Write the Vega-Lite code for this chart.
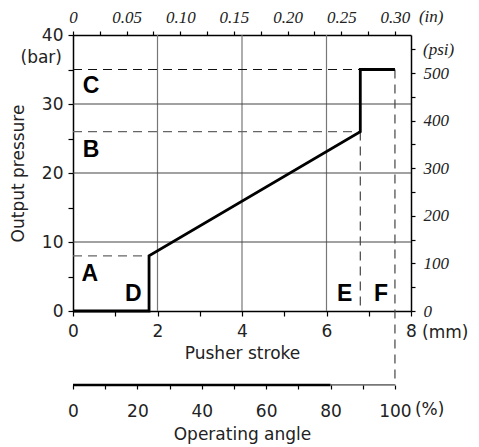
{
  "$schema": "https://vega.github.io/schema/vega-lite/v6.json",
  "width": 338,
  "height": 276,
  "autosize": {"type": "none"},
  "padding": {"left": 73, "top": 35, "right": 68, "bottom": 136},
  "background": "white",
  "config": {
    "view": {"stroke": null},
    "axis": {
      "labelFont": "DejaVu Sans", "labelFontSize": 17, "labelColor": "#222",
      "titleFont": "DejaVu Sans", "titleFontSize": 17, "titleFontWeight": "normal", "titleColor": "#222",
      "domainColor": "black", "domainWidth": 1.5, "tickColor": "black", "tickWidth": 1.2,
      "grid": false
    }
  },
  "datasets": {
    "curve": [{"mm": 0, "bar": 0}, {"mm": 1.8, "bar": 0}, {"mm": 1.8, "bar": 8}, {"mm": 6.8, "bar": 26}, {"mm": 6.8, "bar": 35}, {"mm": 7.62, "bar": 35}],
    "vgrid": [{"mm": 2}, {"mm": 4}, {"mm": 6}],
    "hgrid": [{"bar": 10}, {"bar": 20}, {"bar": 30}],
    "hdashGray": [{"mm": 0, "mm2": 1.8, "bar": 8}, {"mm": 0, "mm2": 6.8, "bar": 26}],
    "hdashBlack": [{"mm": 0, "mm2": 6.8, "bar": 35}],
    "vdash": [{"mm": 6.8, "bar": 26, "bar2": 0}, {"mm": 7.62, "bar": 35, "bar2": -10.72}],
    "letters": [
      {"mm": 0.4, "bar": 5.4, "label": "A"},
      {"mm": 0.43, "bar": 23.4, "label": "B"},
      {"mm": 0.43, "bar": 32.6, "label": "C"},
      {"mm": 1.43, "bar": 2.5, "label": "D"},
      {"mm": 6.43, "bar": 2.5, "label": "E"},
      {"mm": 7.29, "bar": 2.5, "label": "F"}
    ],
    "barUnit": [{"mm": 0, "bar": 40, "text": "(bar)"}],
    "mmUnit": [{"mm": 8, "bar": 0, "text": "(mm)"}],
    "inUnit": [{"in": 0.3, "bar": 40, "text": "(in)"}],
    "psiUnit": [{"mm": 8, "psi": 548, "text": "(psi)"}],
    "pctUnit": [{"pct": 100, "bar": -10.72, "text": "(%)"}],
    "angleSegs": [{"pct": 80, "pct2": 100, "bar": -10.72, "part": "tail"}, {"pct": 0, "pct2": 80, "bar": -10.72, "part": "main"}]
  },
  "layer": [
    {
      "encoding": {
        "x": {"field": "mm", "type": "quantitative", "scale": {"domain": [0, 8], "nice": false},
          "axis": {"orient": "bottom", "values": [0, 1, 2, 3, 4, 5, 6, 7, 8], "labelExpr": "datum.value % 2 == 0 ? datum.label : ''",
            "tickSize": 5, "labelPadding": 7, "title": "Pusher stroke", "titlePadding": 6, "labelFlush": false}},
        "y": {"field": "bar", "type": "quantitative", "scale": {"domain": [0, 40], "nice": false},
          "axis": {"orient": "left", "values": [0, 5, 10, 15, 20, 25, 30, 35, 40], "labelExpr": "datum.value % 10 == 0 ? datum.label : ''",
            "tickSize": 5, "labelPadding": 5, "title": "Output pressure", "titlePadding": 14, "labelFlush": false}}
      },
      "layer": [
        {"data": {"name": "vgrid"}, "mark": {"type": "rule", "color": "#777", "strokeWidth": 1.2}, "encoding": {"y": null}},
        {"data": {"name": "hgrid"}, "mark": {"type": "rule", "color": "#444", "strokeWidth": 1.2}, "encoding": {"x": null}},
        {"data": {"name": "hdashGray"}, "mark": {"type": "rule", "color": "#666", "strokeWidth": 1.2, "strokeDash": [9, 6]},
          "encoding": {"x2": {"field": "mm2"}}},
        {"data": {"name": "hdashBlack"}, "mark": {"type": "rule", "color": "#111", "strokeWidth": 1.2, "strokeDash": [9, 6]},
          "encoding": {"x2": {"field": "mm2"}}},
        {"data": {"name": "vdash"}, "mark": {"type": "rule", "color": "#444", "strokeWidth": 1.2, "strokeDash": [9, 6]},
          "encoding": {"y2": {"field": "bar2"}}},
        {"data": {"name": "curve"}, "mark": {"type": "line", "color": "black", "strokeWidth": 2.8, "strokeJoin": "miter", "strokeCap": "butt"},
          "encoding": {"order": {"value": 0}}},
        {"data": {"name": "letters"}, "mark": {"type": "text", "font": "Liberation Sans", "fontWeight": "bold", "fontSize": 23, "align": "center", "baseline": "middle", "color": "black"},
          "encoding": {"text": {"field": "label"}}},
        {"data": {"name": "barUnit"}, "mark": {"type": "text", "font": "DejaVu Sans", "fontSize": 17, "align": "right", "baseline": "middle", "dx": -11, "dy": 23, "color": "#222"},
          "encoding": {"text": {"field": "text"}}},
        {"data": {"name": "mmUnit"}, "mark": {"type": "text", "font": "DejaVu Sans", "fontSize": 17, "align": "left", "baseline": "middle", "dx": 11, "dy": 22, "color": "#222"},
          "encoding": {"text": {"field": "text"}}}
      ]
    },
    {
      "data": {"name": "inUnit"},
      "mark": {"type": "text", "font": "Liberation Serif", "fontStyle": "italic", "fontSize": 17, "align": "left", "baseline": "middle", "dx": 24, "dy": -18, "color": "#222"},
      "encoding": {
        "x": {"field": "in", "type": "quantitative", "scale": {"domain": [0, 0.31496], "nice": false},
          "axis": {"orient": "top", "values": [0, 0.025, 0.05, 0.075, 0.1, 0.125, 0.15, 0.175, 0.2, 0.225, 0.25, 0.275, 0.3],
            "labelExpr": "datum.value == 0 ? '0' : (abs(datum.value * 20 - round(datum.value * 20)) < 0.001 ? format(datum.value, '.2f') : '')",
            "labelFont": "Liberation Serif", "labelFontStyle": "italic", "labelFontSize": 17, "tickSize": 4, "labelPadding": 5, "title": null, "labelFlush": false}},
        "y": {"field": "bar", "type": "quantitative", "scale": {"domain": [0, 40], "nice": false}, "axis": null},
        "text": {"field": "text"}
      }
    },
    {
      "data": {"name": "psiUnit"},
      "mark": {"type": "text", "font": "Liberation Serif", "fontStyle": "italic", "fontSize": 17, "align": "left", "baseline": "middle", "dx": 12, "color": "#222"},
      "encoding": {
        "x": {"field": "mm", "type": "quantitative", "scale": {"domain": [0, 8], "nice": false}, "axis": null},
        "y": {"field": "psi", "type": "quantitative", "scale": {"domain": [0, 580.15], "nice": false},
          "axis": {"orient": "right", "values": [0, 50, 100, 150, 200, 250, 300, 350, 400, 450, 500, 550],
            "labelExpr": "datum.value % 100 == 0 ? datum.label : ''",
            "labelFont": "Liberation Serif", "labelFontStyle": "italic", "labelFontSize": 17, "tickSize": 4, "labelPadding": 8, "title": null, "labelFlush": false}},
        "text": {"field": "text"}
      }
    },
    {
      "encoding": {
        "x": {"field": "pct", "type": "quantitative", "scale": {"domain": [0, 104.986], "nice": false},
          "axis": {"orient": "bottom", "offset": 74, "domain": false, "ticks": true, "values": [0, 10, 20, 30, 40, 50, 60, 70, 80, 90, 100],
            "labelExpr": "datum.value % 20 == 0 ? datum.label : ''", "tickSize": 4, "tickColor": "black", "tickWidth": 1.2, "labelPadding": 14,
            "title": "Operating angle", "titlePadding": 7, "labelFlush": false, "zindex": 1}},
        "y": {"field": "bar", "type": "quantitative", "scale": {"domain": [0, 40], "nice": false}, "axis": null}
      },
      "layer": [
        {"data": {"name": "angleSegs"}, "mark": {"type": "rule"},
          "encoding": {"x2": {"field": "pct2"},
            "color": {"field": "part", "type": "nominal", "scale": {"domain": ["main", "tail"], "range": ["black", "#777"]}, "legend": null},
            "strokeWidth": {"field": "part", "type": "nominal", "scale": {"domain": ["main", "tail"], "range": [2.5, 1.8]}, "legend": null}}},
        {"data": {"name": "pctUnit"}, "mark": {"type": "text", "font": "DejaVu Sans", "fontSize": 17, "align": "left", "baseline": "middle", "dx": 20, "dy": 25, "color": "#222"},
          "encoding": {"text": {"field": "text"}}}
      ]
    }
  ],
  "resolve": {"scale": {"x": "independent", "y": "independent"}, "axis": {"x": "independent", "y": "independent"}}
}
